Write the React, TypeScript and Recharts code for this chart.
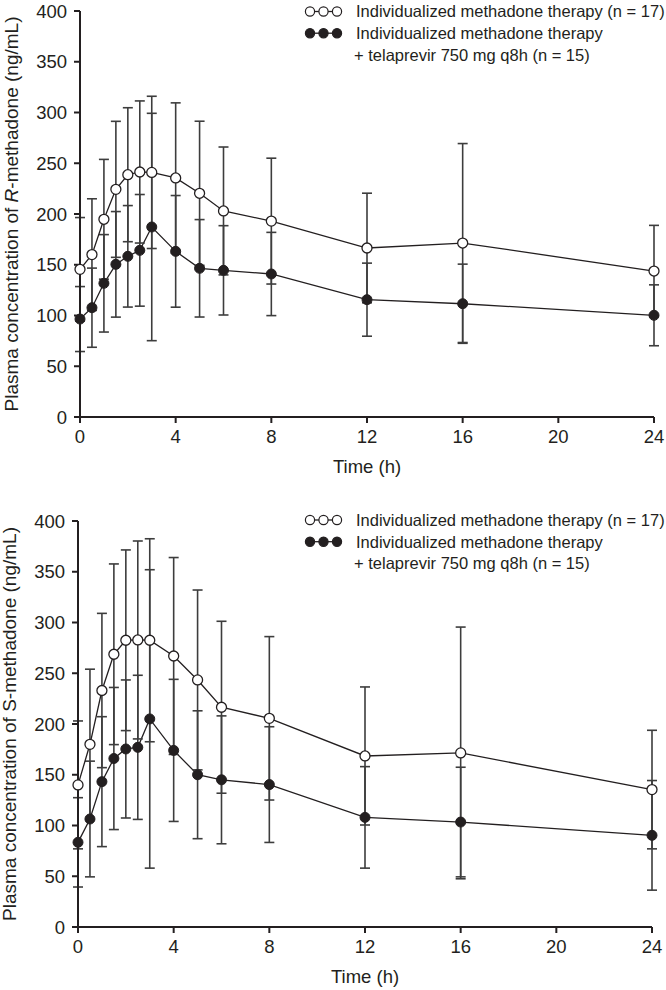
import React from 'react';
import { ComposedChart, Line, XAxis, YAxis, ErrorBar, Legend } from 'recharts';

const times = [0, 0.5, 1, 1.5, 2, 2.5, 3, 4, 5, 6, 8, 12, 16, 24];

// R-methadone
const rAloneMean = [145.5, 160, 194.8, 224.3, 238.7, 241.4, 241, 235.5, 220.4, 203, 193, 166.5, 171.4, 143.8];
const rAloneSd = [51, 55, 59, 67, 66, 70, 75, 74, 71, 63, 62, 54, 98, 45];
const rTelMean = [96.5, 107.7, 131.7, 150.4, 158.3, 164.2, 187.2, 163.2, 146.5, 144.5, 140.9, 115.6, 111.6, 100.2];
const rTelSd = [32, 39, 48, 52, 50, 55, 112, 55, 48, 44, 41, 36, 39, 30];

// S-methadone
const sAloneMean = [140, 180, 233, 268.7, 282.5, 282.8, 282.5, 267, 243.4, 216.5, 205.6, 168.5, 171.5, 135.4];
const sAloneSd = [63, 74, 76, 89, 89, 97.5, 100, 97, 88.6, 84.7, 80.5, 68, 124, 58.4];
const sTelMean = [83.4, 106.4, 143.2, 166, 175.4, 177, 205, 174, 150, 145, 140.3, 108, 103.4, 90.3];
const sTelSd = [44, 57, 64, 70, 68, 71, 147, 70, 63, 63, 57, 50, 54, 54];

const xTicks = [0, 4, 8, 12, 16, 20, 24];
const yTicks = [0, 50, 100, 150, 200, 250, 300, 350, 400];

const legendLabels = [
  'Individualized methadone therapy (n = 17)',
  'Individualized methadone therapy',
  '+ telaprevir 750 mg q8h (n = 15)',
];

const FONT = '"Liberation Sans", Arial, Helvetica, sans-serif';
const INK = '#231f20';

function LegendMarkers({ y, filled }: { y: number; filled: boolean }) {
  const xs = [10, 23.5, 37];
  return (
    <g>
      <line x1={xs[0]} x2={xs[2]} y1={y} y2={y} stroke={INK} strokeWidth={1.3} />
      {xs.map((x) => (
        <circle key={x} cx={x} cy={y} r={4.6} fill={filled ? INK : '#fff'} stroke={INK} strokeWidth={1.2} />
      ))}
    </g>
  );
}

function makeLegend(dy: number) {
  return () => (
    <svg width={368} height={70} style={{ display: 'block', overflow: 'visible' }}>
      <LegendMarkers y={11.5 + dy} filled={false} />
      <LegendMarkers y={33.2 + dy} filled={true} />
      <text x={56} y={17.3 + dy} fontSize={16.5} fontFamily={FONT} fill={INK}>{legendLabels[0]}</text>
      <text x={56} y={39 + dy} fontSize={16.5} fontFamily={FONT} fill={INK}>{legendLabels[1]}</text>
      <text x={54} y={60.6 + dy} fontSize={16.5} fontFamily={FONT} fill={INK}>{legendLabels[2]}</text>
    </svg>
  );
}

function makeYLabel(letter: string, italic: boolean) {
  return (props: any) => {
    const vb = props.viewBox || {};
    const cy = (vb.y || 0) + (vb.height || 0) / 2;
    const x = 18;
    return (
      <text
        x={x}
        y={cy}
        transform={`rotate(-90, ${x}, ${cy})`}
        textAnchor="middle"
        fontSize={19}
        fontFamily={FONT}
        fill={INK}
      >
        Plasma concentration of{' '}
        <tspan fontStyle={italic ? 'italic' : 'normal'}>{letter}</tspan>
        -methadone (ng/mL)
      </text>
    );
  };
}

function xLabel(props: any) {
  const vb = props.viewBox || {};
  const cx = (vb.x || 0) + (vb.width || 0) / 2;
  const y = (vb.y || 0) + 56;
  return (
    <text x={cx} y={y} textAnchor="middle" fontSize={18.5} fontFamily={FONT} fill={INK}>
      Time (h)
    </text>
  );
}

function Panel({
  top, left, alone, aloneSd, tel, telSd, letter, italic, legendDy,
}: {
  top: number; left: number; alone: number[]; aloneSd: number[]; tel: number[]; telSd: number[];
  letter: string; italic: boolean; legendDy: number;
}) {
  const data = times.map((t, i) => ({
    t,
    alone: alone[i],
    aloneSd: aloneSd[i],
    tel: tel[i],
    telSd: telSd[i],
  }));
  const tickStyle = { fontSize: 18.5, fontFamily: FONT, fill: INK };
  return (
    <div style={{ position: 'absolute', left, top, width: 666, height: 495 }}>
      <ComposedChart width={666} height={495} data={data} margin={{ top: 11, right: 12, bottom: 18, left: 0 }}>
        <XAxis
          dataKey="t"
          type="number"
          domain={[0, 24]}
          ticks={xTicks}
          interval={0}
          height={60}
          tickSize={6}
          tickMargin={7}
          axisLine={{ stroke: INK, strokeWidth: 2 }}
          tickLine={{ stroke: INK, strokeWidth: 2 }}
          tick={tickStyle}
          label={{ content: xLabel }}
        />
        <YAxis
          type="number"
          domain={[0, 400]}
          ticks={yTicks}
          interval={0}
          width={80}
          tickSize={6}
          tickMargin={7}
          axisLine={{ stroke: INK, strokeWidth: 2 }}
          tickLine={{ stroke: INK, strokeWidth: 2 }}
          tick={tickStyle}
          label={{ content: makeYLabel(letter, italic) }}
        />
        <Line
          dataKey="tel"
          type="linear"
          stroke={INK}
          strokeWidth={1.3}
          dot={{ r: 5, fill: INK, stroke: INK, strokeWidth: 1 }}
          activeDot={false}
          isAnimationActive={false}
        >
          <ErrorBar dataKey="telSd" width={5} stroke="#3d3d3d" strokeWidth={1.6} direction="y" />
        </Line>
        <Line
          dataKey="alone"
          type="linear"
          stroke={INK}
          strokeWidth={1.3}
          dot={{ r: 5, fill: '#fff', stroke: INK, strokeWidth: 1.3 }}
          activeDot={false}
          isAnimationActive={false}
        >
          <ErrorBar dataKey="aloneSd" width={5} stroke="#3d3d3d" strokeWidth={1.6} direction="y" />
        </Line>
        <Legend
          layout="vertical"
          align="center"
          verticalAlign="middle"
          content={makeLegend(legendDy)}
          wrapperStyle={{ position: 'absolute', left: 300 - left, top: 0, width: 368, height: 70 }}
        />
      </ComposedChart>
    </div>
  );
}

export default function App() {
  return (
    <div style={{ position: 'absolute', left: 0, top: 0, width: 666, height: 990, background: '#fff' }}>
      <Panel top={0} left={0} alone={rAloneMean} aloneSd={rAloneSd} tel={rTelMean} telSd={rTelSd} letter="R" italic={true} legendDy={0} />
      <Panel top={510} left={-2} alone={sAloneMean} aloneSd={sAloneSd} tel={sTelMean} telSd={sTelSd} letter="S" italic={false} legendDy={-1.5} />
    </div>
  );
}
